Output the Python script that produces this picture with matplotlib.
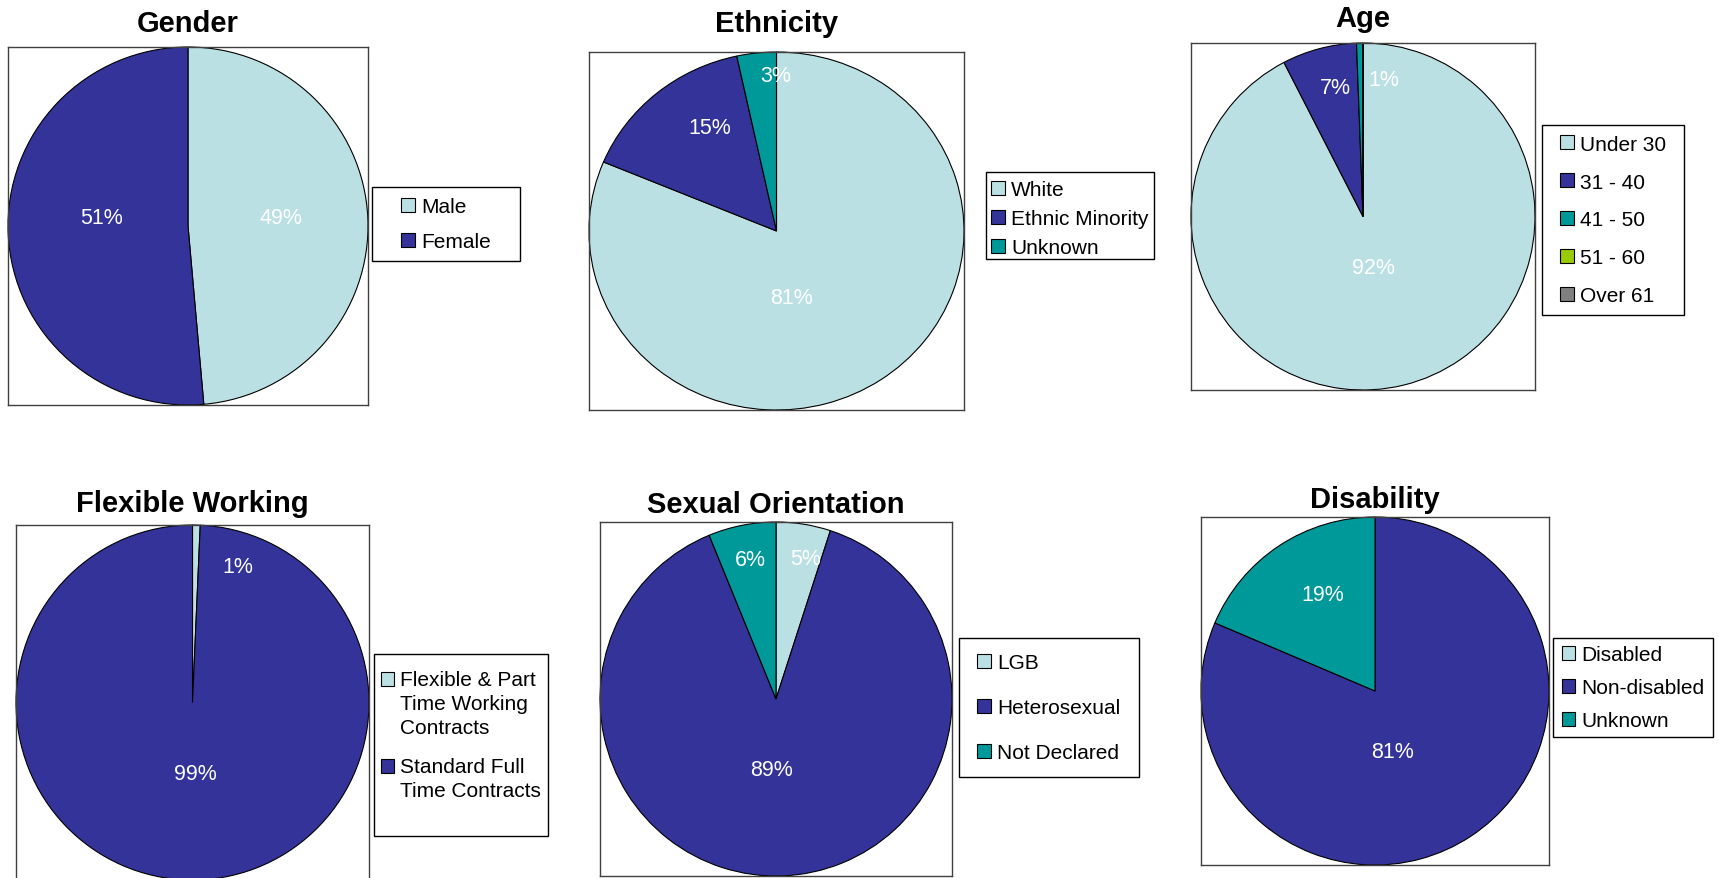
import numpy as np
import matplotlib
matplotlib.use('Agg')
from matplotlib import pyplot as plt
from matplotlib.patches import Rectangle

plt.rcParams['font.family'] = ['Liberation Sans', 'DejaVu Sans']

# values in percent
gender_labels = ['Male', 'Female']
gender_values = [48.6, 51.4]

ethnicity_labels = ['White', 'Ethnic Minority', 'Unknown']
ethnicity_values = [81.3, 15.3, 3.4]

age_labels = ['Under 30', '31 - 40', '41 - 50', '51 - 60', 'Over 61']
age_values = [92.4, 7.0, 0.6, 0, 0]

flexible_labels = ['Flexible & Part\nTime Working\nContracts', 'Standard Full\nTime Contracts']
flexible_values = [0.7, 99.3]

orientation_labels = ['LGB', 'Heterosexual', 'Not Declared']
orientation_values = [5.0, 88.8, 6.2]

disability_labels = ['Disabled', 'Non-disabled', 'Unknown']
disability_values = [0, 81.4, 18.6]

palette = ['#BBE0E3', '#333399', '#009999', '#99CC00', '#808080']

W, H = 1719, 879
LEG_FS = 15
LINE_SP = 1.35


def px_rect(x0, x1, y0, y1):
    return [x0 / W, 1 - y1 / H, (x1 - x0) / W, (y1 - y0) / H]


def draw_pie(rect, title, title_pad, labels, values, label_r, label_shift,
             legend_box, legend_spacing, legend_dy=0):
    ax = fig.add_axes(px_rect(*rect))
    wedges, _ = ax.pie(values, colors=palette[:len(values)], startangle=90,
                       counterclock=False, radius=1, frame=True,
                       wedgeprops=dict(edgecolor='black', linewidth=0.8))
    ax.set_aspect('auto')
    ax.set_xlim(-1, 1)
    ax.set_ylim(-1, 1)
    ax.set_xticks([])
    ax.set_yticks([])
    for s in ax.spines.values():
        s.set_color('#404040')
        s.set_linewidth(1.0)
    for w, v, r, sh in zip(wedges, values, label_r, label_shift):
        if v <= 0:
            continue
        ang = np.deg2rad((w.theta1 + w.theta2) / 2 + sh)
        ax.text(r * np.cos(ang), r * np.sin(ang), f'{round(v)}%',
                color='white', fontsize=15.5, ha='center', va='center')
    ax.set_title(title, fontsize=21, fontweight='bold', pad=title_pad)

    # legend box drawn as a fixed frame, entries centred inside it
    lx0, lx1, ly0, ly1 = legend_box
    fig.add_artist(Rectangle((lx0 / W, 1 - ly1 / H), (lx1 - lx0) / W, (ly1 - ly0) / H,
                             transform=fig.transFigure, fill=False,
                             edgecolor='black', linewidth=1.0))
    leg = ax.legend(wedges, labels, loc='center',
                    bbox_to_anchor=((lx0 + lx1) / 2 / W, 1 - ((ly0 + ly1) / 2 + legend_dy) / H),
                    bbox_transform=fig.transFigure, fontsize=LEG_FS,
                    frameon=False, borderaxespad=0, borderpad=0,
                    handlelength=0.65, handleheight=0.65, handletextpad=0.3,
                    labelspacing=legend_spacing)
    for t in leg.get_texts():
        t.set_linespacing(LINE_SP)
    for h, lab in zip(leg.legend_handles, labels):
        h.set_edgecolor('black')
        h.set_linewidth(0.8)
        n = lab.count('\n')
        if n:
            # put the swatch next to the first line of a wrapped label
            h.set_y(h.get_y() + n / 2 * LEG_FS * 1.2)
    return ax


fig = plt.figure(figsize=(W / 100, H / 100), dpi=100)

draw_pie((8, 368, 48, 406), 'Gender', 11.5, gender_labels, gender_values,
         [0.52, 0.48], [3, -8], (372, 520, 188, 262), 0.77)
draw_pie((589, 964, 53, 411), 'Ethnicity', 15, ethnicity_labels, ethnicity_values,
         [0.38, 0.68, 0.87], [-21.5, -8, -6], (986, 1154, 173, 260), 0.48, 3)
draw_pie((1191, 1535, 44, 391), 'Age', 12, age_labels, age_values,
         [0.30, 0.76, 0.80, 0, 0], [-2, -2.6, -9.7, 0, 0], (1542, 1684, 126, 316), 0.91)
draw_pie((16, 369, 526, 881), 'Flexible Working', 10, flexible_labels, flexible_values,
         [0.81, 0.40], [-17.4, 4], (374, 548, 655, 837), 0.95, -10)
draw_pie((600, 952, 523, 877), 'Sexual Orientation', 7, orientation_labels, orientation_values,
         [0.81, 0.40, 0.80], [-3, -5.8, -0.8], (959, 1139, 639, 778), 1.25)
draw_pie((1201, 1549, 518, 866), 'Disability', 7, disability_labels, disability_values,
         [0, 0.36, 0.63], [0, -17.5, -4.9], (1553, 1713, 639, 738), 0.67)

fig.savefig('out.png', dpi=100)
